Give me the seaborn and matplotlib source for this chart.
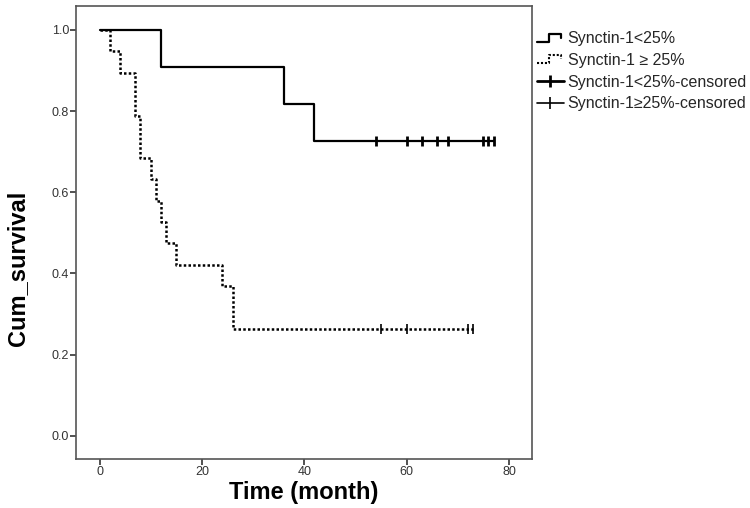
import matplotlib
matplotlib.use("Agg")
import matplotlib.pyplot as plt
import seaborn as sns
import numpy as np
import pandas as pd
from matplotlib.lines import Line2D
from matplotlib.legend_handler import HandlerBase

# ---- data ----
low_times = [0, 12, 36, 42, 77]
low_surv = [1.0, 0.909, 0.818, 0.727, 0.727]
low_cens_times = [54, 60, 63, 66, 68, 75, 76, 77]
low_cens_surv = [0.727] * 8

high_times = [0, 2, 4, 7, 8, 10, 11, 12, 13, 15, 24, 26, 73]
high_surv = [1.0, 0.947, 0.895, 0.789, 0.684, 0.632, 0.579, 0.526,
             0.474, 0.421, 0.368, 0.263, 0.263]
high_cens_times = [55, 60, 72, 73]
high_cens_surv = [0.263] * 4

x_ticks = [0, 20, 40, 60, 80]
y_ticks = [0.0, 0.2, 0.4, 0.6, 0.8, 1.0]
legend_labels = ["Synctin-1<25%", "Synctin-1 \u2265 25%",
                 "Synctin-1<25%-censored", "Synctin-1\u226525%-censored"]

sns.set_theme(style="white")
plt.rcParams['font.family'] = ['Liberation Sans', 'DejaVu Sans']

fig = plt.figure(figsize=(7.5, 5.08), dpi=100)
ax = fig.add_axes([76 / 750, 49 / 508, (532 - 76) / 750, (459 - 6) / 508])

low_df = pd.DataFrame({"t": low_times, "s": low_surv})
high_df = pd.DataFrame({"t": high_times, "s": high_surv})

sns.lineplot(data=low_df, x="t", y="s", ax=ax, estimator=None, sort=False,
             drawstyle="steps-post", color="black", linewidth=1.6)
sns.lineplot(data=high_df, x="t", y="s", ax=ax, estimator=None, sort=False,
             drawstyle="steps-post", color="black", linewidth=1.8,
             linestyle=(0, (1.0, 0.9)))
sns.scatterplot(x=low_cens_times, y=low_cens_surv, ax=ax, marker="|",
                s=55, linewidth=2.0, color="black")
sns.scatterplot(x=high_cens_times, y=high_cens_surv, ax=ax, marker="|",
                s=45, linewidth=1.2, color="black")

ax.set_xlim(-4.6, 84.5)
ax.set_ylim(-0.057, 1.059)
ax.set_xticks(x_ticks)
ax.set_yticks(y_ticks)
ax.set_yticklabels([f"{v:.1f}" for v in y_ticks])
ax.tick_params(axis="both", which="both", direction="out", length=4,
               width=1.2, color="#333333", labelsize=9, labelcolor="#333333",
               pad=1, bottom=True, left=True)
for sp in ax.spines.values():
    sp.set_color("#555555")
    sp.set_linewidth(1.2)
ax.set_xlabel("")
ax.set_ylabel("")

fig.text(304 / 750, 1 - 492 / 508, "Time (month)", ha="center", va="center",
         fontsize=17, fontweight="bold", color="black")
fig.text(18 / 750, 1 - 268 / 508, "Cum_survival", ha="center", va="center",
         rotation=90, fontsize=17, fontweight="bold", color="black")


class StepHandler(HandlerBase):
    def __init__(self, ls, lw):
        super().__init__()
        self.ls = ls
        self.lw = lw

    def create_artists(self, legend, orig_handle, xdescent, ydescent,
                       width, height, fontsize, trans):
        xs = np.array([0.0, 0.45, 0.45, 0.9, 0.9]) * width - xdescent
        ys = np.array([0.15, 0.15, 0.85, 0.85, 0.5]) * height - ydescent
        ln = Line2D(xs, ys, color="black", linewidth=self.lw,
                    linestyle=self.ls, transform=trans)
        return [ln]


h1 = Line2D([], [], color="black")
h2 = Line2D([], [], color="black", linestyle=":")
h3 = Line2D([0], [0], color="black", marker="|", markersize=9,
            markeredgewidth=2.0, linewidth=2.0)
h4 = Line2D([0], [0], color="black", marker="|", markersize=9,
            markeredgewidth=1.2, linewidth=1.2)

fig.legend([h1, h2, h3, h4], legend_labels,
           handler_map={h1: StepHandler("-", 1.6),
                        h2: StepHandler((0, (1.0, 0.9)), 1.5)},
           loc="upper left", bbox_to_anchor=(534 / 750, 1 - 28 / 508),
           frameon=False, fontsize=11.5, handlelength=1.65,
           handletextpad=0.25, labelspacing=0.42, borderaxespad=0,
           borderpad=0.2)

fig.savefig("out.png", dpi=100)
